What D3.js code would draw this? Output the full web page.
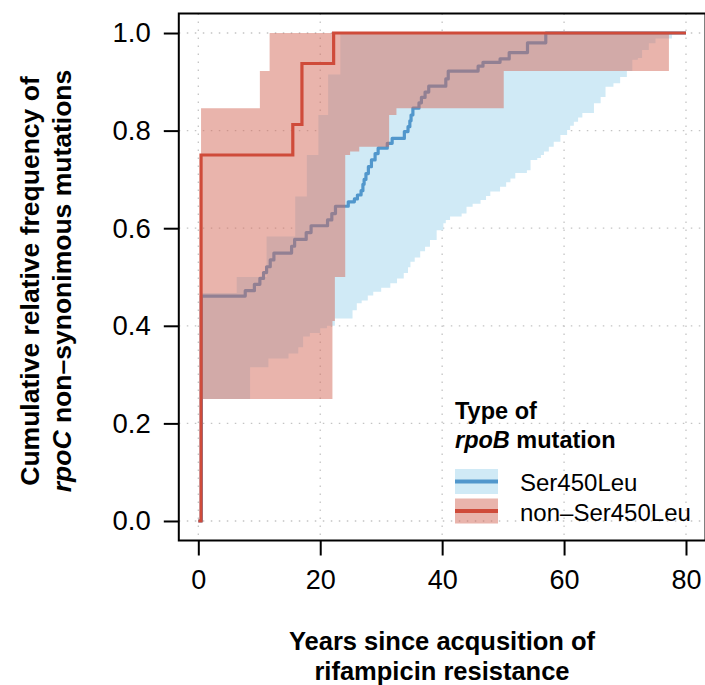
<!DOCTYPE html>
<html>
<head>
<meta charset="utf-8">
<script src="https://cdn.jsdelivr.net/npm/d3@7"></script>
<style>
  body { margin: 0; background: #fff; }
  svg { display: block; }
  text { font-family: "Liberation Sans", Arial, Helvetica, sans-serif; fill: #000; }
</style>
</head>
<body>
<svg id="chart" width="705" height="685"></svg>
<script>
// Axis ticks
const xTicks = [0, 20, 40, 60, 80];
const yTicks = [0, 0.2, 0.4, 0.6, 0.8, 1.0];

// Cumulative relative frequency, Ser450Leu group: [years, frequency]
const serLine = [
  [0, 0], [0.5, 0.461], [7.7, 0.472], [9.2, 0.485], [10.1, 0.497], [10.7, 0.509],
  [11.2, 0.521], [11.8, 0.535], [12.4, 0.549], [15.3, 0.563], [15.8, 0.577],
  [17.7, 0.591], [18.5, 0.605], [21.2, 0.617], [21.9, 0.630], [22.5, 0.645],
  [24.6, 0.654], [25.6, 0.660], [26.1, 0.668], [26.7, 0.677], [27.0, 0.690],
  [27.2, 0.700], [27.5, 0.712], [27.9, 0.726], [28.4, 0.740], [29.0, 0.753],
  [29.5, 0.764], [31.0, 0.774], [31.8, 0.784], [33.8, 0.798], [34.4, 0.808],
  [34.7, 0.820], [34.9, 0.832], [35.2, 0.846], [36.2, 0.857], [36.6, 0.868],
  [37.2, 0.879], [37.8, 0.891], [40.6, 0.906], [41.0, 0.922], [45.9, 0.932],
  [46.7, 0.940], [49.5, 0.947], [51.0, 0.960], [54.0, 0.980], [57.0, 1.0], [80, 1.0]
];

// Cumulative relative frequency, non-Ser450Leu group: [years, frequency]
const nonSerLine = [
  [0, 0], [0.45, 0.75], [15.5, 0.8125], [17.0, 0.9375], [22.2, 1.0], [80, 1.0]
];

// Confidence bands: [years, lower, upper]
const serBand = [
  [0.5, 0.25, 0.467], [6.3, 0.25, 0.5], [8.5, 0.315, 0.5], [11.2, 0.315, 0.583],
  [11.5, 0.333, 0.583], [14.8, 0.343, 0.583], [15.9, 0.343, 0.665], [16.4, 0.356, 0.665],
  [17.2, 0.378, 0.665], [17.8, 0.378, 0.75], [18.3, 0.385, 0.75], [19.7, 0.385, 0.832],
  [20.0, 0.395, 0.832], [21.1, 0.40, 0.832], [21.3, 0.40, 0.915], [22.4, 0.415, 0.915],
  [23.3, 0.415, 1], [25.3, 0.432, 1], [26.0, 0.446, 1], [26.8, 0.452, 1], [27.8, 0.462, 1],
  [28.7, 0.47, 1], [30.0, 0.478, 1], [31.5, 0.487, 1], [32.6, 0.497, 1], [33.7, 0.508, 1],
  [34.4, 0.52, 1], [34.8, 0.531, 1], [35.5, 0.54, 1], [36.4, 0.553, 1], [37.2, 0.562, 1],
  [38.0, 0.576, 1], [39.1, 0.596, 1], [40.2, 0.61, 1], [40.6, 0.617, 1], [41.3, 0.624, 1],
  [43.2, 0.63, 1], [44.0, 0.644, 1], [45.0, 0.65, 1], [46.3, 0.658, 1], [47.2, 0.666, 1],
  [47.9, 0.675, 1], [49.5, 0.685, 1], [50.5, 0.694, 1], [51.2, 0.702, 1], [52.0, 0.713, 1],
  [53.9, 0.719, 1], [54.5, 0.74, 1], [55.6, 0.744, 1], [56.2, 0.75, 1], [56.7, 0.757, 1],
  [57.5, 0.767, 1], [58.3, 0.777, 1], [59.4, 0.791, 1], [60.5, 0.801, 1], [61.0, 0.81, 1],
  [61.6, 0.818, 1], [62.3, 0.827, 1], [63.0, 0.836, 1], [64.9, 0.856, 1], [66.0, 0.869, 1],
  [66.8, 0.89, 1], [68.1, 0.897, 1], [69.2, 0.91, 1], [70.3, 0.922, 1], [71.2, 0.945, 1],
  [72.1, 0.949, 1], [72.8, 0.965, 1], [73.9, 0.979, 1], [75.0, 0.989, 1], [77.7, 1, 1]
];

const nonSerBand = [
  [0.45, 0.25, 0.846], [10.1, 0.25, 0.922], [11.7, 0.25, 1.0], [22.0, 0.41, 1.0],
  [22.4, 0.5, 1.0], [24.1, 0.75, 1.0], [24.9, 0.757, 1.0], [26.4, 0.767, 1.0],
  [31.3, 0.832, 1.0], [32.5, 0.846, 1.0], [50.1, 0.922, 1.0], [77.2, 0.922, 1.0]
];

const groups = ["Ser450Leu", "non\u2013Ser450Leu"];
const lineColors = ["#5197cc", "#cf4b3a"];
const bandColors = ["#d0eaf6", "#d4695a"];

const svg = d3.select("#chart");
const font = '"Liberation Sans", Arial, Helvetica, sans-serif';

// plot region (axis range padded 4% like base graphics)
const x = d3.scaleLinear().domain([-3.2, 83.2]).range([178.8, 705.5]);
const y = d3.scaleLinear().domain([-0.04, 1.04]).range([540.5, 13.5]);

// dotted grid
const grid = svg.append("g").attr("stroke", "#c4c4c4").attr("stroke-width", 1.3)
  .attr("stroke-dasharray", "1.5,6.5");
grid.selectAll("line.v").data(xTicks).join("line")
  .attr("x1", d => x(d)).attr("x2", d => x(d))
  .attr("y1", y.range()[1]).attr("y2", y.range()[0]);
grid.selectAll("line.h").data(yTicks).join("line")
  .attr("y1", d => y(d)).attr("y2", d => y(d))
  .attr("x1", x.range()[0]).attr("x2", x.range()[1]);

const area = d3.area().curve(d3.curveStepAfter)
  .x(d => x(d[0])).y0(d => y(d[1])).y1(d => y(d[2]));
const line = d3.line().curve(d3.curveStepAfter)
  .x(d => x(d[0])).y(d => y(d[1]));

// Ser450Leu band and curve
svg.append("path").attr("d", area(serBand)).attr("fill", bandColors[0]);
svg.append("path").attr("d", line(serLine)).attr("fill", "none")
  .attr("stroke", lineColors[0]).attr("stroke-width", 3.2).attr("stroke-linejoin", "round");

// non-Ser450Leu band (translucent) and curve
svg.append("path").attr("d", area(nonSerBand)).attr("fill", bandColors[1]).attr("fill-opacity", 0.5);
svg.append("path").attr("d", line(nonSerLine)).attr("fill", "none")
  .attr("stroke", lineColors[1]).attr("stroke-width", 3.2).attr("stroke-linejoin", "miter");

// frame
svg.append("rect")
  .attr("x", x.range()[0]).attr("y", y.range()[1])
  .attr("width", x.range()[1] - x.range()[0]).attr("height", y.range()[0] - y.range()[1])
  .attr("fill", "none").attr("stroke", "#000").attr("stroke-width", 2);

// axes
const xAxis = d3.axisBottom(x).tickValues(xTicks).tickSize(15).tickPadding(14)
  .tickFormat(d3.format("d"));
const gx = svg.append("g").attr("transform", `translate(0,${y.range()[0]})`).call(xAxis);
gx.select(".domain").remove();
gx.selectAll(".tick line").attr("stroke-width", 2);
gx.selectAll(".tick text").attr("font-size", 27).attr("font-family", font);

const yAxis = d3.axisLeft(y).tickValues(yTicks).tickSize(15).tickPadding(13)
  .tickFormat(d3.format(".1f"));
const gy = svg.append("g").attr("transform", `translate(${x.range()[0]},0)`).call(yAxis);
gy.select(".domain").remove();
gy.selectAll(".tick line").attr("stroke-width", 2);
gy.selectAll(".tick text").attr("font-size", 27.5).attr("font-family", font);

// axis titles
const xt = svg.append("text").attr("text-anchor", "middle").attr("font-weight", "bold")
  .attr("font-size", 25.5);
xt.append("tspan").attr("x", 442).attr("y", 650).text("Years since acqusition of");
xt.append("tspan").attr("x", 442).attr("y", 680).text("rifampicin resistance");

const yt = svg.append("text").attr("text-anchor", "middle").attr("font-weight", "bold")
  .attr("font-size", 26.5).attr("transform", "translate(0,281) rotate(-90)");
yt.append("tspan").attr("x", 0).attr("y", 39).text("Cumulative relative frequency of");
const yt2 = yt.append("tspan").attr("x", 0).attr("y", 71);
yt2.append("tspan").attr("font-style", "italic").text("rpoC");
yt2.append("tspan").text(" non\u2013synonimous mutations");

// legend
const lg = svg.append("g");
lg.append("text").attr("x", 455).attr("y", 419).attr("font-weight", "bold").attr("font-size", 23.5)
  .text("Type of");
const lt2 = lg.append("text").attr("x", 455).attr("y", 448).attr("font-weight", "bold").attr("font-size", 23.5);
lt2.append("tspan").attr("font-style", "italic").text("rpoB");
lt2.append("tspan").text(" mutation");

groups.forEach((g, i) => {
  const top = 469 + i * 29.5;
  lg.append("rect").attr("x", 455).attr("y", top).attr("width", 43).attr("height", 25)
    .attr("fill", bandColors[i]).attr("fill-opacity", i === 1 ? 0.5 : 1);
  lg.append("line").attr("x1", 455).attr("x2", 498).attr("y1", top + 12.5).attr("y2", top + 12.5)
    .attr("stroke", lineColors[i]).attr("stroke-width", 4);
  lg.append("text").attr("x", 520).attr("y", top + 22).attr("font-size", 24).text(g);
});
</script>
</body>
</html>
